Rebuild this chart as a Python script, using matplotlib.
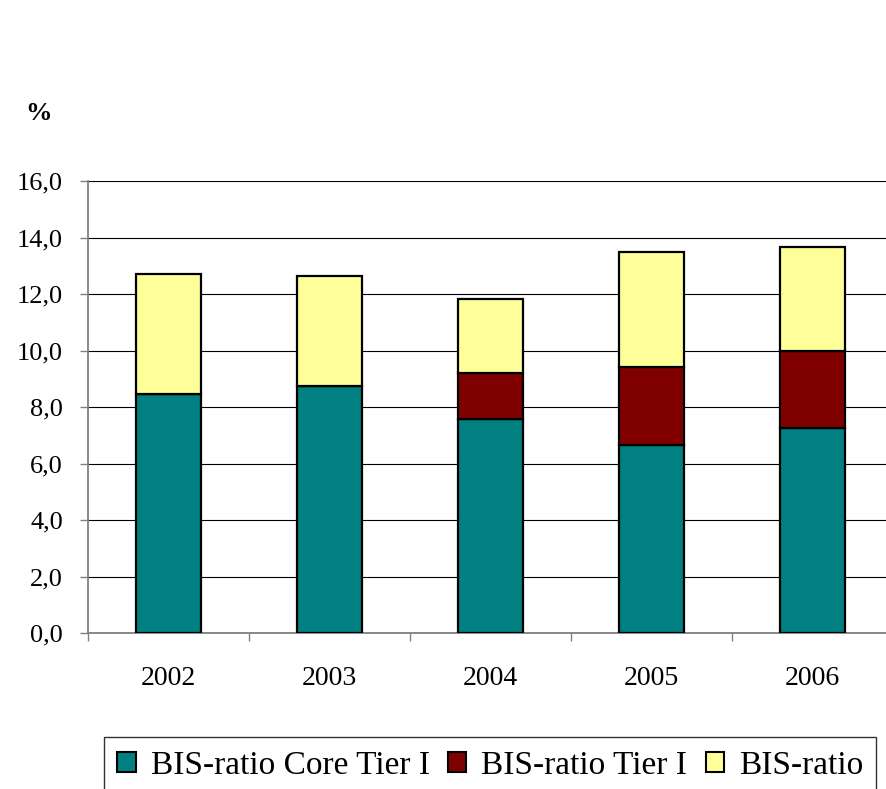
import matplotlib
matplotlib.use("Agg")
import matplotlib.pyplot as plt
from matplotlib.patches import Patch
import numpy as np

years = ["2002", "2003", "2004", "2005", "2006"]
core_tier1 = [8.45, 8.74, 7.56, 6.67, 7.27]
tier1 = [8.45, 8.74, 9.22, 9.40, 9.99]
bis_ratio = [12.70, 12.62, 11.83, 13.49, 13.67]
series_labels = ["BIS-ratio Core Tier I", "BIS-ratio Tier I", "BIS-ratio"]
colors = ["#008080", "#800000", "#FFFF99"]
yticks = [0, 2, 4, 6, 8, 10, 12, 14, 16]

plt.rcParams['font.family'] = ['Liberation Serif', 'DejaVu Serif']

W, H = 886, 789
fig = plt.figure(figsize=(W / 100, H / 100), dpi=100)
ax = fig.add_axes([88 / W, 156 / H, 805 / W, 452 / H])

x = np.arange(len(years))
core = np.array(core_tier1)
t1_part = np.array(tier1) - core
bis_part = np.array(bis_ratio) - np.array(tier1)

bw = 0.40
ax.bar(x, core, bw, color=colors[0], edgecolor="black", linewidth=1.6, zorder=3)
ax.bar(x, t1_part, bw, bottom=core, color=colors[1], edgecolor="black", linewidth=1.6, zorder=3)
ax.bar(x, bis_part, bw, bottom=np.array(tier1), color=colors[2], edgecolor="black", linewidth=1.6, zorder=3)

ax.set_xlim(-0.5, 4.5)
ax.set_ylim(0, 16)
ax.set_yticks(yticks)
ax.set_yticklabels([f"{v:.1f}".replace(".", ",") for v in yticks], fontsize=19)
ax.grid(axis="y", color="black", linewidth=0.8, zorder=0)
ax.set_axisbelow(True)

ax.set_xticks(x)
ax.set_xticklabels(years, fontsize=20)
ax.tick_params(axis="x", which="major", length=0, pad=24)
ax.set_xticks(np.arange(-0.5, 5, 1.0), minor=True)
ax.tick_params(axis="x", which="minor", length=6, width=1, color="#808080", direction="out")
ax.tick_params(axis="y", length=6, width=1, color="#808080", direction="out", pad=12)

for s in ["top", "right"]:
    ax.spines[s].set_visible(False)
for s in ["left", "bottom"]:
    ax.spines[s].set_color("#808080")
    ax.spines[s].set_linewidth(1.3)

fig.text(25 / W, 1 - 113 / H, "%", fontsize=19, fontweight="bold", va="center", ha="left")

handles = [Patch(facecolor=c, edgecolor="black", linewidth=1.5) for c in colors]
leg = fig.legend(handles, series_labels, loc="upper left",
                 bbox_to_anchor=(104 / W, 1 - 737 / H), bbox_transform=fig.transFigure,
                 ncol=3, fontsize=24, frameon=True, fancybox=False,
                 handlelength=0.55, handleheight=0.55, handletextpad=0.45,
                 columnspacing=0.55, borderpad=0.4, borderaxespad=0)
leg.get_frame().set_edgecolor("black")
leg.get_frame().set_linewidth(1.0)

fig.savefig("out.png", dpi=100)
